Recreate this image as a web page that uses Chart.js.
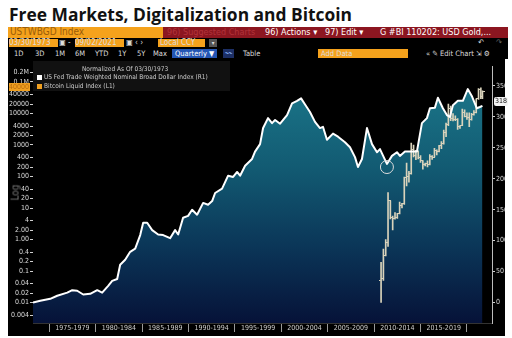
<!DOCTYPE html>
<html lang="en">
<head>
<meta charset="UTF-8" />
<title>Free Markets, Digitalization and Bitcoin</title>
<script src="https://cdn.jsdelivr.net/npm/chart.js"></script>
<style>
  * { margin: 0; padding: 0; box-sizing: border-box; }
  body { width: 512px; height: 338px; background: #fff; position: relative; overflow: hidden;
         font-family: 'DejaVu Sans Condensed', 'Liberation Sans Narrow', Arial, sans-serif; }
  .abs { position: absolute; white-space: nowrap; }
  #title { left: 9px; top: 2px; font: bold 17.4px 'Open Sans', sans-serif; color: #111; }
  .bar { position: absolute; font-size: 9px; line-height: 10px; }
  .orange { background: #f5a21c; color: #9a5c08; }
  .lbl { position: absolute; color: #ddd; font-size: 7.5px; top: 1px; }
  #chartBox { left: 8px; top: 59px; width: 497px; height: 277px; background: #000; }
  #chart { position: absolute; left: 8px; top: 59px; }
  #legend { left: 33px; top: 61px; width: 197px; height: 30px; background: #111; color: #ccc; font-size: 6.5px; }
  .sq { display: inline-block; width: 5px; height: 5px; margin-right: 2px; vertical-align: -0.5px; }
</style>
</head>
<body>
<div id="title" class="abs">Free Markets, Digitalization and Bitcoin</div>

<!-- header row 1 -->
<div class="bar orange" style="left:8px;top:27px;width:155px;height:11px;padding-left:2px;font-size:10px;">USTWBGD Index</div>
<div class="bar" style="left:163px;top:27px;width:345px;height:11px;background:#8c1620;color:#fff;">
  <span class="lbl" style="left:4px;color:#b2333a;font-size:9px;top:0">96) Suggested Charts</span>
  <span class="lbl" style="left:102px;color:#fff;font-size:9px;top:0">96) Actions ▾</span>
  <span class="lbl" style="left:162px;color:#fff;font-size:9px;top:0">97) Edit ▾</span>
  <span class="lbl" style="left:217px;color:#fff;font-size:9px;top:0">G #BI 110202: USD Gold,...</span>
</div>
<!-- header row 2 -->
<div class="bar" style="left:8px;top:38px;width:500px;height:10px;background:#000;">
  <span class="lbl orange" style="left:1px;top:1px;width:49px;height:8px;font-size:8px;line-height:8px;">03/30/1973</span>
  <span class="lbl" style="left:51px;top:0;font-size:8px;">▣ -</span>
  <span class="lbl orange" style="left:67px;top:1px;width:49px;height:8px;font-size:8px;line-height:8px;">09/02/2021</span>
  <span class="lbl" style="left:118px;top:0;font-size:8px;">▣ ‹ ›</span>
  <span class="lbl orange" style="left:150px;top:1px;width:47px;height:8px;font-size:8px;line-height:8px;padding-left:2px;">Local CCY</span>
  <span class="lbl" style="left:201px;top:1px;width:8px;height:8px;background:#555;font-size:6px;line-height:8px;text-align:center;">▾</span>
  <span class="lbl" style="left:470px;top:0;font-size:8px;">↶</span>
  <span class="lbl" style="left:488px;top:0;font-size:8px;color:#666;">↷</span>
</div>
<!-- header row 3 -->
<div class="bar" style="left:8px;top:48px;width:500px;height:11px;background:#000;">
  <span class="lbl" style="left:6px">1D</span>
  <span class="lbl" style="left:27px">3D</span>
  <span class="lbl" style="left:47px">1M</span>
  <span class="lbl" style="left:67px">6M</span>
  <span class="lbl" style="left:87px">YTD</span>
  <span class="lbl" style="left:110px">1Y</span>
  <span class="lbl" style="left:129px">5Y</span>
  <span class="lbl" style="left:145px">Max</span>
  <span class="lbl" style="left:164px;top:1px;width:45px;height:9px;background:#2456b4;color:#fff;padding-left:3px;line-height:9px;">Quarterly ▼</span>
  <span class="lbl" style="left:215px;top:1px;width:11px;height:9px;background:#1c2f66;color:#7fa6e6;line-height:9px;font-size:7px;text-align:center;">〰</span>
  <span class="lbl" style="left:235px">Table</span>
  <span class="lbl orange" style="left:310px;top:1px;width:90px;height:9px;line-height:9px;padding-left:3px;">Add Data</span>
  <span class="lbl" style="left:418px">«  ✎ Edit Chart  ⇲ ⚙</span>
</div>

<div id="chartBox" class="abs"></div>
<canvas id="chart" width="497" height="276"></canvas>

<div id="legend" class="abs">
  <div class="abs" style="left:49px;top:4px;">Normalized As Of 03/30/1973</div>
  <div class="abs" style="left:4px;top:12px;"><span class="sq" style="background:#fff"></span>US Fed Trade Weighted Nominal Broad Dollar Index (R1)</div>
  <div class="abs" style="left:4px;top:21px;"><span class="sq" style="background:#f0a020"></span>Bitcoin Liquid Index (L1)</div>
</div>
<div class="abs" style="left:9px;top:83px;width:21px;height:8px;background:#f0a020;color:#b86c10;font-size:7px;line-height:8px;text-align:right;padding-right:1px;">40000</div>
<div class="abs" style="left:494px;top:97px;width:14px;height:9px;background:#f4f4f4;color:#111;font-size:7px;line-height:9px;text-align:center;border-radius:2px;">318</div>
<div class="abs" style="left:7px;top:187px;color:#777;font-size:10px;transform:rotate(-90deg);">Log</div>

<script>
// US Fed trade weighted dollar index, normalized (right axis)
const usdYears = [1973.25, 1974.03, 1975.11, 1975.86, 1976.94, 1977.48, 1978.01, 1978.66, 1979.41, 1980.17,
  1980.70, 1981.35, 1981.78, 1982.32, 1982.64, 1983.18, 1983.72, 1984.26, 1984.80, 1985.12,
  1985.55, 1986.09, 1986.73, 1987.27, 1988.02, 1988.56, 1988.89, 1989.42, 1989.96, 1990.39,
  1990.93, 1991.58, 1992.11, 1992.55, 1992.87, 1993.62, 1994.27, 1994.81, 1995.24, 1995.56,
  1996.10, 1996.85, 1997.17, 1997.71, 1998.04, 1998.57, 1999.00, 1999.33, 1999.87, 2000.62,
  2001.16, 2001.70, 2002.13, 2002.56, 2003.09, 2003.63, 2004.17, 2004.49, 2004.92, 2005.57,
  2006.11, 2006.86, 2007.40, 2007.94, 2008.26, 2008.69, 2009.23, 2009.77, 2010.31, 2010.63,
  2011.38, 2011.92, 2012.46, 2012.78, 2013.32, 2014.07, 2014.61, 2015.15, 2015.69, 2016.01,
  2016.55, 2016.87, 2017.41, 2017.84, 2018.16, 2018.49, 2019.02, 2019.56, 2020.09, 2020.52,
  2021.07, 2021.39, 2021.67];
const usdValues = [0, 3, 6, 11, 16, 20, 19, 13, 14, 20,
  16, 27, 35, 38, 61, 69, 82, 87, 109, 129,
  129, 117, 110, 109, 104, 117, 110, 137, 140, 150,
  142, 161, 158, 164, 177, 184, 205, 203, 211, 205,
  221, 232, 244, 256, 282, 298, 290, 295, 289, 303,
  322, 326, 330, 320, 308, 292, 282, 284, 263, 273,
  268, 259, 251, 235, 219, 232, 282, 256, 243, 248,
  224, 237, 243, 237, 244, 244, 244, 290, 298, 314,
  315, 331, 314, 303, 300, 319, 326, 326, 345, 334,
  314, 316, 318];

// Bitcoin Liquid Index, quarterly OHLC (left log axis)
const btcDates = [2010.75, 2011.0, 2011.25, 2011.5, 2011.75, 2012.0, 2012.25, 2012.5, 2012.75, 2013.0,
  2013.25, 2013.5, 2013.75, 2014.0, 2014.25, 2014.5, 2014.75, 2015.0, 2015.25, 2015.5,
  2015.75, 2016.0, 2016.25, 2016.5, 2016.75, 2017.0, 2017.25, 2017.5, 2017.75, 2018.0,
  2018.25, 2018.5, 2018.75, 2019.0, 2019.25, 2019.5, 2019.75, 2020.0, 2020.25, 2020.5,
  2020.75, 2021.0, 2021.25, 2021.5, 2021.67];
const btcOpen = [0.05, 0.06, 0.3, 0.78, 16.7, 5.1, 4.7, 4.9, 6.7, 12.4,
  13.5, 93, 97, 128, 740, 450, 640, 390, 320, 245,
  260, 237, 430, 415, 670, 610, 960, 1080, 2480, 4340,
  14150, 6930, 6400, 6630, 3740, 4100, 10800, 8300, 7200, 6440,
  9140, 10780, 28990, 58800, 35040];
const btcHigh = [0.19, 0.5, 1.0, 31, 17, 5.5, 7.2, 6.8, 15.4, 14,
  95, 266, 145, 1150, 1000, 680, 650, 460, 320, 265,
  315, 500, 465, 780, 700, 975, 1290, 3000, 4980, 19800,
  17250, 9990, 8500, 6830, 4140, 13900, 13000, 10400, 10500, 10100,
  12470, 29300, 61800, 64900, 52000];
const btcLow = [0.01, 0.05, 0.3, 0.6, 4.5, 2.0, 4.4, 4.7, 6.5, 10,
  13, 50, 66, 118, 420, 340, 360, 280, 170, 215,
  200, 235, 350, 415, 480, 605, 760, 1060, 1830, 4110,
  5950, 5800, 5880, 3120, 3350, 4080, 7750, 6500, 3850, 6150,
  8900, 10400, 28200, 29300, 29300];
const btcClose = [0.06, 0.3, 0.78, 16.7, 5.1, 4.7, 4.9, 6.7, 12.4, 13.5,
  93, 97, 128, 740, 450, 640, 390, 320, 245, 260,
  237, 430, 415, 670, 610, 960, 1080, 2480, 4340, 14150,
  6930, 6400, 6630, 3740, 4100, 10800, 8300, 7200, 6440, 9140,
  10780, 28990, 58800, 35040, 49000];

// circled low in the dollar index
const circleAt = [{ x: 2011.38, y: 219 }];

// axis ticks
const leftTicks = [0.004, 0.01, 0.02, 0.04, 0.1, 0.2, 0.4, 1, 2, 4, 10, 20, 40, 100, 200, 400,
  1000, 2000, 4000, 10000, 20000, 40000, 100000, 200000];
const leftTickLabels = ['0.004', '0.01', '0.02', '0.04', '0.1', '0.2', '0.4', '1.00', '2.00', '4', '10', '20', '40',
  '100', '200', '400', '1000', '2000', '4000', '10000', '20000', '40000', '0.1M', '0.2M'];
const rightTicks = [0, 50, 100, 150, 200, 250, 300, 350];
const xSeparators = [1975, 1980, 1985, 1990, 1995, 2000, 2005, 2010, 2015, 2020];
const xLabels = ['1975-1979', '1980-1984', '1985-1989', '1990-1994', '1995-1999',
  '2000-2004', '2005-2009', '2010-2014', '2015-2019'];

const BAR_COLOR = '#d9d3bb';

// small tick images for the OHLC open (left) and close (right)
function tickImage(side) {
  const c = document.createElement('canvas');
  c.width = 5; c.height = 1;
  const g = c.getContext('2d');
  g.fillStyle = BAR_COLOR;
  g.fillRect(side === 'left' ? 0 : 3, 0, 2, 1);
  return c;
}

function areaGradient(context) {
  const { ctx, chartArea } = context.chart;
  if (!chartArea) return null;
  const g = ctx.createLinearGradient(0, chartArea.top, 0, chartArea.bottom);
  g.addColorStop(0, '#1d7c8e');
  g.addColorStop(0.4, '#125a72');
  g.addColorStop(0.7, '#0b3658');
  g.addColorStop(1, '#061238');
  return g;
}

// keep axis boxes to fixed sizes, no label overhang padding
function fixSize(w, h) {
  return s => {
    if (w != null) s.width = w;
    if (h != null) s.height = h;
    s.paddingLeft = 0; s.paddingRight = 0; s.paddingTop = 0; s.paddingBottom = 0;
  };
}

const usdPoints = usdYears.map((x, i) => ({ x, y: usdValues[i] }));
const xTickVals = [];
xSeparators.forEach((s, i) => { xTickVals.push(s); if (i < xLabels.length) xTickVals.push(s + 2.5); });

const tickFont = { family: "'DejaVu Sans Condensed', 'Liberation Sans Narrow', sans-serif", size: 7 };

new Chart(document.getElementById('chart'), {
  type: 'bar',
  data: {
    datasets: [
      {
        type: 'line', label: 'area', data: usdPoints, yAxisID: 'yR', order: 10,
        borderWidth: 0, pointRadius: 0, fill: 'start', backgroundColor: areaGradient
      },
      {
        type: 'bar', label: 'Bitcoin Liquid Index (L1)', yAxisID: 'yL', order: 5,
        data: btcDates.map((x, i) => ({ x, y: [btcLow[i], btcHigh[i]] })),
        backgroundColor: BAR_COLOR, barThickness: 1, borderSkipped: false
      },
      {
        type: 'scatter', label: 'open', yAxisID: 'yL', order: 4,
        data: btcDates.map((x, i) => ({ x, y: btcOpen[i] })),
        pointStyle: tickImage('left')
      },
      {
        type: 'scatter', label: 'close', yAxisID: 'yL', order: 4,
        data: btcDates.map((x, i) => ({ x, y: btcClose[i] })),
        pointStyle: tickImage('right')
      },
      {
        type: 'line', label: 'US Fed Trade Weighted Nominal Broad Dollar Index (R1)', data: usdPoints,
        yAxisID: 'yR', order: 1, borderColor: '#ffffff', borderWidth: 2, pointRadius: 0, fill: false,
        borderJoinStyle: 'round'
      },
      {
        type: 'scatter', label: 'circle', data: circleAt, yAxisID: 'yR', order: 0,
        pointRadius: 6.5, borderColor: '#dddddd', borderWidth: 1, backgroundColor: 'rgba(0,0,0,0)'
      }
    ]
  },
  options: {
    responsive: false,
    animation: false,
    layout: { padding: { top: 1, left: 0, right: 0, bottom: 0 } },
    plugins: { legend: { display: false }, tooltip: { enabled: false } },
    scales: {
      x: {
        type: 'linear', min: 1973.25, max: 2022.7, offset: false,
        afterBuildTicks: s => { s.ticks = xTickVals.map(v => ({ value: v })); },
        afterFit: fixSize(null, 12),
        ticks: {
          autoSkip: false, maxRotation: 0, padding: -8, color: '#cfcfcf', font: tickFont,
          callback: v => { const i = xSeparators.indexOf(v - 2.5); return i >= 0 ? xLabels[i] : ''; }
        },
        grid: {
          offset: false, drawOnChartArea: false, tickLength: 9,
          color: c => (c.tick && xSeparators.includes(c.tick.value)) ? '#9a9a9a' : 'rgba(0,0,0,0)'
        },
        border: { color: '#333' }
      },
      yL: {
        type: 'logarithmic', position: 'left', min: 0.00224, max: 310000,
        afterBuildTicks: s => { s.ticks = leftTicks.map(v => ({ value: v })); },
        afterFit: fixSize(25, null),
        ticks: {
          autoSkip: false, padding: 1, color: '#dcdcdc', font: tickFont,
          callback: v => { const i = leftTicks.indexOf(v); return i >= 0 ? leftTickLabels[i] : ''; }
        },
        grid: { drawOnChartArea: false, tickLength: 3, color: '#cfcfcf' },
        border: { display: false }
      },
      yR: {
        type: 'linear', position: 'right', min: -33.1, max: 381.5,
        afterBuildTicks: s => { s.ticks = rightTicks.map(v => ({ value: v })); },
        afterFit: fixSize(13, null),
        ticks: { autoSkip: false, padding: 1, color: '#dcdcdc', font: tickFont },
        grid: { drawOnChartArea: false, tickLength: 3, color: '#cfcfcf' },
        border: { color: '#bdbdbd' }
      }
    }
  }
});
</script>
</body>
</html>
